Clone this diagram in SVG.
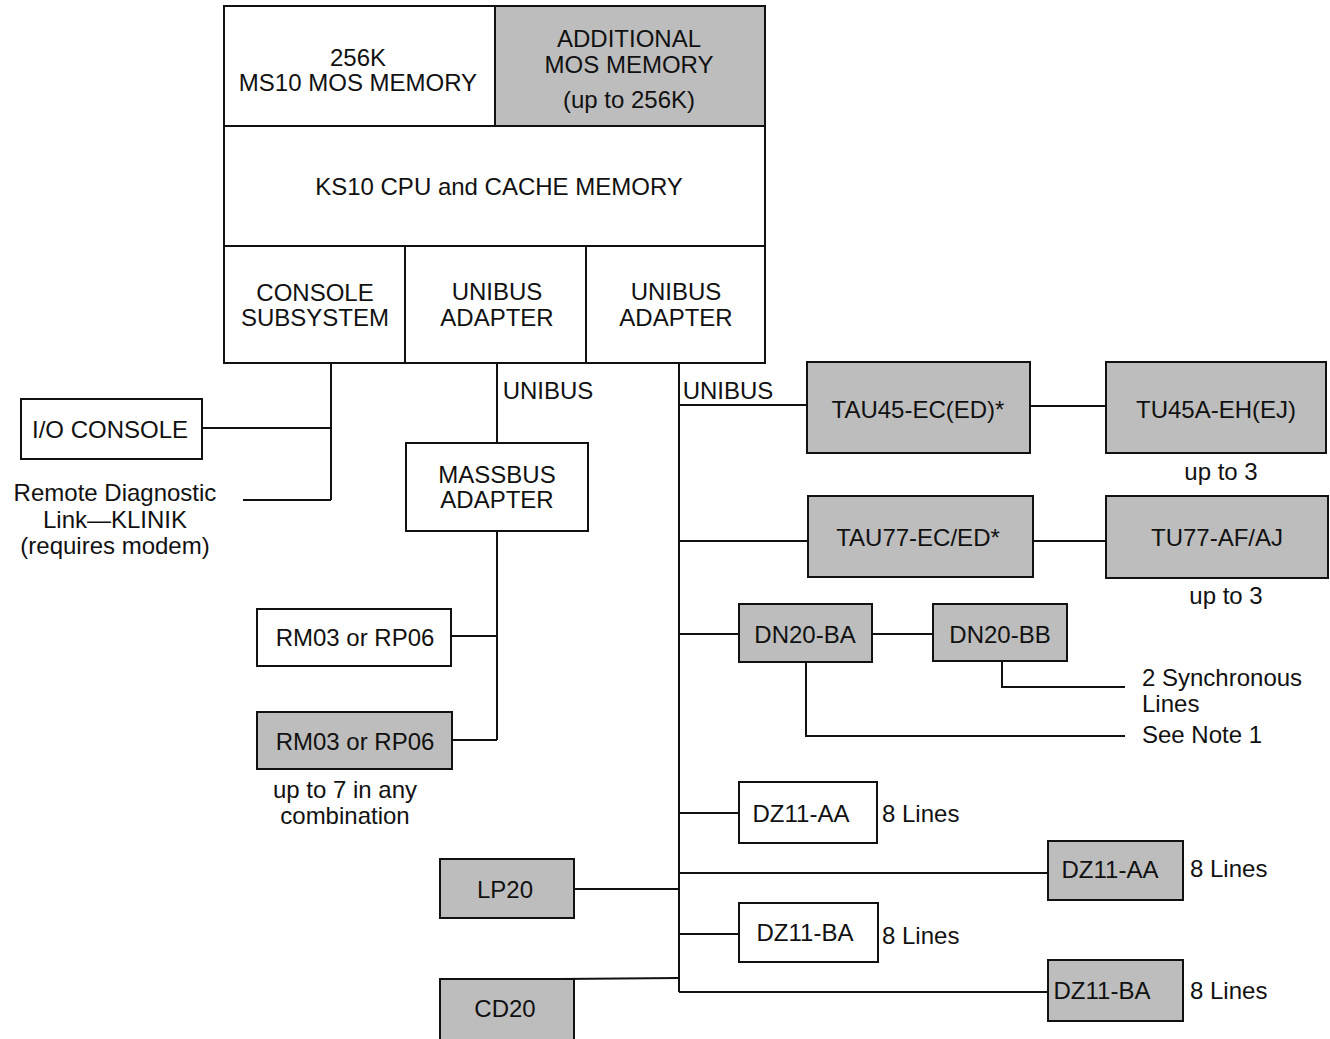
<svg xmlns="http://www.w3.org/2000/svg" width="1330" height="1039" viewBox="0 0 1330 1039">
<style>
rect{stroke:#111;stroke-width:2;fill:#fff}
rect.s{fill:#bdbdbd}
rect.bg{stroke:none}
line,polyline{stroke:#111;stroke-width:2;fill:none}
text{font-family:"Liberation Sans",Arial,sans-serif;font-size:24px;fill:#111;text-anchor:middle;dominant-baseline:central}
text.l{text-anchor:start}
</style>
<rect class="bg" width="1330" height="1039"/>
<g id="connectors">
<line x1="331" y1="363" x2="331" y2="500"/>
<line x1="202" y1="428" x2="331" y2="428"/>
<line x1="243" y1="500" x2="331" y2="500"/>
<line x1="497" y1="363" x2="497" y2="443"/>
<line x1="497" y1="531" x2="497" y2="740"/>
<line x1="451" y1="636" x2="497" y2="636"/>
<line x1="452" y1="740" x2="497" y2="740"/>
<line x1="679" y1="363" x2="679" y2="992"/>
<line x1="679" y1="405" x2="807" y2="405"/>
<line x1="1030" y1="406" x2="1106" y2="406"/>
<line x1="679" y1="541" x2="808" y2="541"/>
<line x1="1033" y1="541" x2="1106" y2="541"/>
<line x1="679" y1="634" x2="739" y2="634"/>
<line x1="872" y1="634" x2="933" y2="634"/>
<polyline points="1002,661 1002,687 1125,687"/>
<polyline points="806,662 806,736 1125,736"/>
<line x1="679" y1="813" x2="739" y2="813"/>
<line x1="679" y1="873" x2="1048" y2="873"/>
<line x1="574" y1="889" x2="679" y2="889"/>
<line x1="679" y1="934" x2="739" y2="934"/>
<line x1="560" y1="979" x2="679" y2="978"/>
<line x1="679" y1="992" x2="1048" y2="992"/>
</g>
<g id="ms10"><rect x="224" y="6" width="271" height="120"/><text x="358" y="57">256K</text><text x="358" y="82">MS10 MOS MEMORY</text></g>
<g id="addmem"><rect class="s" x="495" y="6" width="270" height="120"/><text x="629" y="38">ADDITIONAL</text><text x="629" y="64">MOS MEMORY</text><text x="629" y="99">(up to 256K)</text></g>
<g id="cpu"><rect x="224" y="126" width="541" height="120"/><text x="499" y="186">KS10 CPU and CACHE MEMORY</text></g>
<g id="console"><rect x="224" y="246" width="181" height="117"/><text x="315" y="292">CONSOLE</text><text x="315" y="317">SUBSYSTEM</text></g>
<g id="ua1"><rect x="405" y="246" width="181" height="117"/><text x="497" y="291">UNIBUS</text><text x="497" y="317">ADAPTER</text></g>
<g id="ua2"><rect x="586" y="246" width="179" height="117"/><text x="676" y="291">UNIBUS</text><text x="676" y="317">ADAPTER</text></g>
<g id="labels">
<text x="548" y="390">UNIBUS</text>
<text x="728" y="390">UNIBUS</text>
<text x="115" y="492">Remote Diagnostic</text>
<text x="115" y="519">Link—KLINIK</text>
<text x="115" y="545">(requires modem)</text>
<text x="345" y="789">up to 7 in any</text>
<text x="345" y="815">combination</text>
<text x="1221" y="471">up to 3</text>
<text x="1226" y="595">up to 3</text>
<text class="l" x="1142" y="677">2 Synchronous</text>
<text class="l" x="1142" y="703">Lines</text>
<text class="l" x="1142" y="734">See Note 1</text>
<text class="l" x="882" y="813">8 Lines</text>
<text class="l" x="1190" y="868">8 Lines</text>
<text class="l" x="882" y="935">8 Lines</text>
<text class="l" x="1190" y="990">8 Lines</text>
</g>
<g id="ioconsole"><rect x="21" y="399" width="181" height="60"/><text x="110" y="429">I/O CONSOLE</text></g>
<g id="massbus"><rect x="406" y="443" width="182" height="88"/><text x="497" y="474">MASSBUS</text><text x="497" y="499">ADAPTER</text></g>
<g id="rm1"><rect x="257" y="609" width="194" height="57"/><text x="355" y="637">RM03 or RP06</text></g>
<g id="rm2"><rect class="s" x="257" y="712" width="195" height="57"/><text x="355" y="741">RM03 or RP06</text></g>
<g id="tau45"><rect class="s" x="807" y="362" width="223" height="91"/><text x="918" y="409">TAU45-EC(ED)*</text></g>
<g id="tu45"><rect class="s" x="1106" y="362" width="220" height="91"/><text x="1216" y="409">TU45A-EH(EJ)</text></g>
<g id="tau77"><rect class="s" x="808" y="496" width="225" height="81"/><text x="918" y="537">TAU77-EC/ED*</text></g>
<g id="tu77"><rect class="s" x="1106" y="496" width="222" height="82"/><text x="1217" y="537">TU77-AF/AJ</text></g>
<g id="dn20ba"><rect class="s" x="739" y="604" width="133" height="58"/><text x="805" y="634">DN20-BA</text></g>
<g id="dn20bb"><rect class="s" x="933" y="604" width="134" height="57"/><text x="1000" y="634">DN20-BB</text></g>
<g id="dz11aa1"><rect x="739" y="782" width="138" height="61"/><text x="801" y="813">DZ11-AA</text></g>
<g id="dz11aa2"><rect class="s" x="1048" y="841" width="135" height="59"/><text x="1110" y="869">DZ11-AA</text></g>
<g id="lp20"><rect class="s" x="440" y="859" width="134" height="59"/><text x="505" y="889">LP20</text></g>
<g id="dz11ba1"><rect x="739" y="903" width="139" height="59"/><text x="805" y="932">DZ11-BA</text></g>
<g id="cd20"><rect class="s" x="440" y="979" width="134" height="62"/><text x="505" y="1008">CD20</text></g>
<g id="dz11ba2"><rect class="s" x="1048" y="960" width="135" height="61"/><text x="1102" y="990">DZ11-BA</text></g>
</svg>
